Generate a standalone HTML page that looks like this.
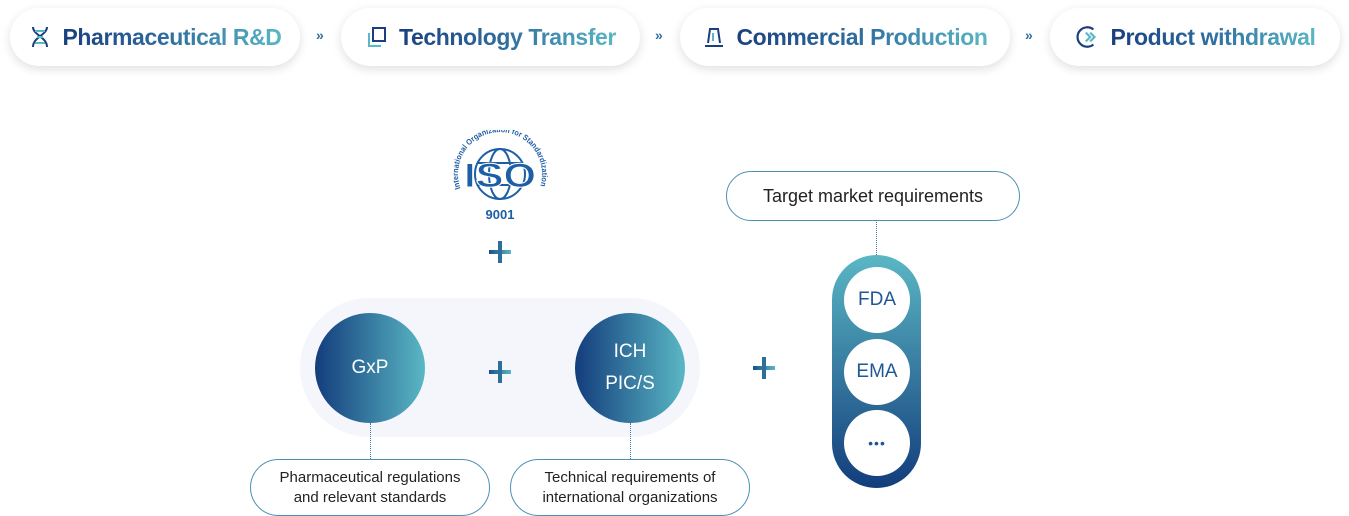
<!DOCTYPE html>
<html><head><meta charset="utf-8"><style>
body{margin:0;width:1349px;height:516px;background:#fff;position:relative;overflow:hidden;font-family:"Liberation Sans",sans-serif}
.pill{position:absolute;top:8px;height:58px;border-radius:29px;background:#fff;box-shadow:0 3px 10px rgba(0,0,0,.13);display:flex;align-items:center;justify-content:center;gap:10px}
.pill span{font-size:23px;font-weight:bold;background:linear-gradient(90deg,#1a3f7f 0%,#2f6fa0 50%,#5ab7c5 100%);-webkit-background-clip:text;background-clip:text;color:transparent;letter-spacing:-0.4px}
.arr{position:absolute;top:27px;font-size:14px;color:#2f6fa0;font-weight:bold}
.circ{position:absolute;width:110px;height:110px;border-radius:50%;background:linear-gradient(90deg,#133d7c,#5ab7c4);color:#fff;display:flex;align-items:center;justify-content:center;text-align:center;font-size:19px;line-height:32px}
.lab{position:absolute;border:1px solid #4e8fb5;border-radius:29px;background:#fff;display:flex;align-items:center;justify-content:center;text-align:center;font-size:15px;line-height:20px;color:#222}
.dot{position:absolute;border-left:1px dotted #3a7ea8;width:0}
.plus{position:absolute;width:22px;height:22px}
.plus:before{content:"";position:absolute;left:0;top:9px;width:22px;height:4px;background:linear-gradient(90deg,#1a4f8a,#5ab7c5)}
.plus:after{content:"";position:absolute;left:9px;top:0;width:4px;height:22px;background:#2c6f9b}
.wc{position:absolute;left:844px;width:66px;height:66px;border-radius:50%;background:#fff;display:flex;align-items:center;justify-content:center;font-size:19px;color:#1f5795}
</style></head><body>
<div class="pill" style="left:10px;width:290px"><svg width="24" height="24" viewBox="0 0 24 24"><path d="M5 2c0 8 14 10 14 20M19 2c0 8-14 10-14 20" stroke="#1a3f7f" stroke-width="2" fill="none"/><path d="M7 6h10M7 18h10M9 12h6" stroke="#5ab7c5" stroke-width="2"/></svg><span>Pharmaceutical R&amp;D</span></div>
<div class="arr" style="left:316px">»</div>
<div class="pill" style="left:341px;width:299px"><svg width="24" height="24" viewBox="0 0 24 24"><rect x="8" y="3" width="12" height="13" stroke="#1a3f7f" stroke-width="2" fill="none"/><path d="M4 8v13h12" stroke="#5ab7c5" stroke-width="2" fill="none"/></svg><span>Technology Transfer</span></div>
<div class="arr" style="left:655px">»</div>
<div class="pill" style="left:680px;width:330px"><svg width="24" height="24" viewBox="0 0 24 24"><path d="M6 18L8 4h8l2 14M3 21h18" stroke="#1a3f7f" stroke-width="2" fill="none"/><path d="M11 8v8" stroke="#5ab7c5" stroke-width="2"/></svg><span>Commercial Production</span></div>
<div class="arr" style="left:1025px">»</div>
<div class="pill" style="left:1050px;width:290px"><svg width="26" height="26" viewBox="0 0 24 24"><path d="M17 5A9 9 0 1 0 17 19" stroke="#1a3f7f" stroke-width="2" fill="none"/><path d="M10 8l4 4-4 4M14 8l4 4-4 4" stroke="#5ab7c5" stroke-width="2" fill="none"/></svg><span>Product withdrawal</span></div>

<svg style="position:absolute;left:450px;top:130px" width="100" height="96" viewBox="0 0 100 96">
<defs><path id="arc" d="M10.5 58.4A42 42 0 1 1 89.5 58.4"/></defs>
<circle cx="50" cy="44" r="25" fill="none" stroke="#1d5ea4" stroke-width="2"/>
<ellipse cx="50" cy="44" rx="11" ry="25" fill="none" stroke="#1d5ea4" stroke-width="2"/>
<path d="M27 33h46M27 55h46" stroke="#1d5ea4" stroke-width="2"/>
<text font-size="8" font-weight="bold" fill="#1d5ea4"><textPath href="#arc" textLength="158" lengthAdjust="spacingAndGlyphs">International Organization for Standardization</textPath></text>
<text x="50" y="57" text-anchor="middle" font-weight="bold" font-size="34" fill="#1d5ea4" stroke="#fff" stroke-width="1" textLength="72" lengthAdjust="spacingAndGlyphs">ISO</text>
<text x="50" y="89" text-anchor="middle" font-weight="bold" font-size="13" fill="#1d5ea4">9001</text>
</svg>
<div class="plus" style="left:489px;top:241px"></div>

<div style="position:absolute;left:300px;top:298px;width:400px;height:139px;border-radius:70px;background:#f4f6fb"></div>
<div class="circ" style="left:315px;top:313px">GxP</div>
<div class="circ" style="left:575px;top:313px">ICH<br>PIC/S</div>
<div class="plus" style="left:489px;top:361px"></div>
<div class="plus" style="left:753px;top:357px"></div>
<div class="dot" style="left:370px;top:423px;height:36px"></div>
<div class="dot" style="left:630px;top:423px;height:36px"></div>
<div class="lab" style="left:250px;top:459px;width:238px;height:55px">Pharmaceutical regulations<br>and relevant standards</div>
<div class="lab" style="left:510px;top:459px;width:238px;height:55px">Technical requirements of<br>international organizations</div>

<div class="lab" style="left:726px;top:171px;width:292px;height:48px;font-size:18px;color:#222;border-radius:25px">Target market requirements</div>
<div class="dot" style="left:876px;top:220px;height:35px"></div>
<div style="position:absolute;left:832px;top:255px;width:89px;height:233px;border-radius:45px;background:linear-gradient(180deg,#5ab7c4,#133d7c)"></div>
<div class="wc" style="top:267px">FDA</div>
<div class="wc" style="top:339px">EMA</div>
<div class="wc" style="top:410px;font-size:14px;letter-spacing:1px">•••</div>
</body></html>
